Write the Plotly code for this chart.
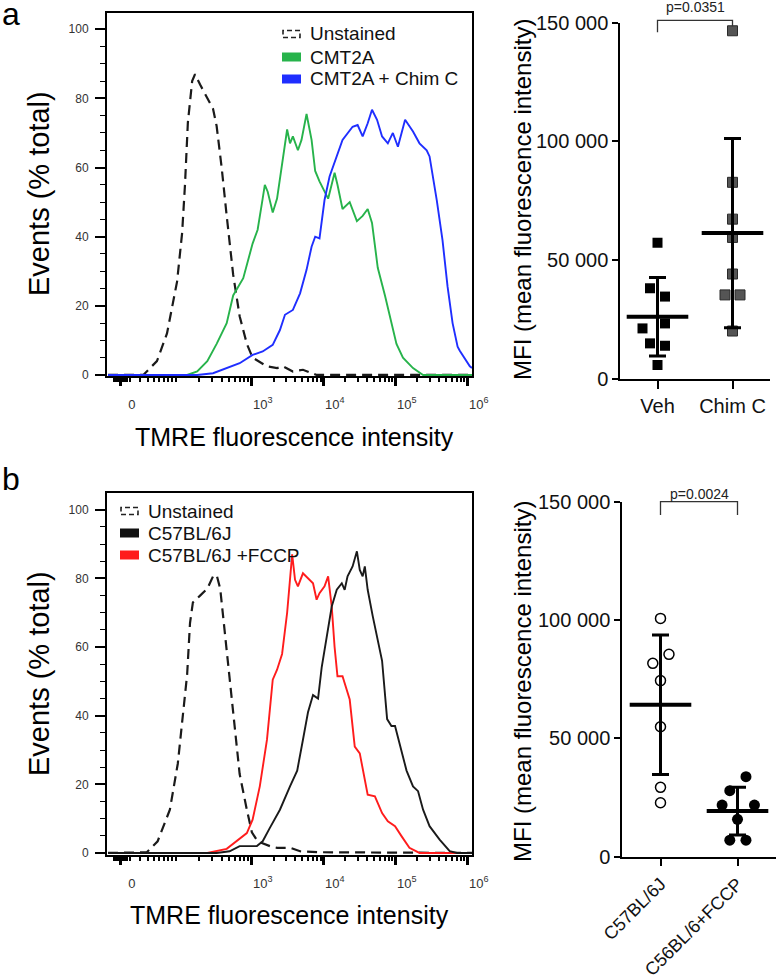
import numpy as np
import plotly.graph_objects as go

# ---------------- DATA ----------------
# Histograms: x in display decades (3 -> 10^3, 4 -> 10^4 ...), y = events (% total)
a_unst_x = [1.0, 1.49, 1.68, 1.82, 1.96, 2.03, 2.07, 2.11, 2.17, 2.21, 2.28, 2.38, 2.46, 2.51, 2.58, 2.65,
            2.74, 2.83, 2.93, 3.01, 3.21, 3.35, 3.43, 3.57, 3.71, 3.90, 6.06]
a_unst_y = [0, 0, 4, 12, 27, 41, 55, 73, 85, 87, 84, 80, 77, 72, 60, 46,
            29, 17, 9, 5, 2.5, 2, 2.5, 1, 1.5, 0, 0]

a_cmt_x = [1.0, 2.10, 2.24, 2.38, 2.51, 2.65, 2.74, 2.88, 3.01, 3.08, 3.15, 3.18, 3.22, 3.28, 3.29, 3.35,
           3.42, 3.49, 3.53, 3.57, 3.64, 3.69, 3.76, 3.83, 3.88, 3.94, 4.06, 4.15, 4.19, 4.26, 4.36,
           4.46, 4.54, 4.61, 4.67, 4.75, 4.85, 4.92, 5.01, 5.10, 5.24, 5.38, 6.06]
a_cmt_y = [0, 0, 1, 4, 9, 15, 23, 28, 38, 42, 51, 55, 53, 48, 47, 51,
           61, 71, 67, 69, 65, 68, 75.5, 68, 59, 56, 51, 58.5, 55, 48, 50,
           44.5, 46, 48, 44, 31, 23, 17, 9, 5, 2, 0, 0]

a_chim_x = [1.0, 2.24, 2.46, 2.65, 2.83, 3.01, 3.15, 3.29, 3.39, 3.46, 3.57, 3.67, 3.76, 3.83, 3.88, 3.94,
            4.01, 4.08, 4.18, 4.26, 4.40, 4.47, 4.54, 4.61, 4.67, 4.74, 4.81, 4.89, 4.96, 5.03, 5.13,
            5.24, 5.33, 5.43, 5.47, 5.57, 5.65, 5.72, 5.79, 5.86, 5.89, 6.03, 6.06]
a_chim_y = [0, 0, 0.5, 2, 3.4, 5.8, 6.8, 8.7, 13, 17.4, 18.8, 23.6, 30.4, 37.1, 40, 39.5,
            50.6, 57.4, 63.2, 68, 71.8, 72.3, 69, 72.8, 76.7, 73.8, 69, 67, 70, 66, 73.8,
            70.4, 67, 65, 63.2, 50.6, 39, 25.6, 15, 8.2, 7, 2.5, 2]

b_unst_x = [1.0, 1.54, 1.69, 1.86, 1.97, 2.04, 2.10, 2.14, 2.18, 2.28, 2.38, 2.46, 2.51, 2.56, 2.63, 2.69,
            2.76, 2.83, 2.93, 3.0, 3.08, 3.25, 3.35, 3.53, 3.67, 3.94, 6.06]
b_unst_y = [0, 0.2, 3.4, 12.6, 26, 39, 52, 67, 73, 75, 77, 80.6, 81, 77, 63, 50.5,
            35, 23, 12.6, 6, 3.4, 2, 1.5, 1.5, 0.5, 0.2, 0]

b_wt_x = [1.0, 2.51, 2.69, 2.83, 3.07, 3.15, 3.25, 3.39, 3.53, 3.63, 3.71, 3.78, 3.85, 3.92, 3.97, 4.04,
          4.11, 4.18, 4.25, 4.29, 4.33, 4.40, 4.46, 4.50, 4.54, 4.57, 4.61, 4.68, 4.75, 4.81, 4.88,
          4.94, 4.99, 5.06, 5.15, 5.24, 5.31, 5.38, 5.47, 5.61, 5.75, 5.85, 6.06]
b_wt_y = [0, 0, 0.5, 2, 2, 3.4, 7.3, 12.6, 19.4, 24, 33, 41, 46, 45, 54, 63,
          71.8, 76.7, 78.6, 76.7, 80.6, 83.5, 87.9, 82.5, 80.6, 83.5, 76.7, 69, 62, 56, 39,
          37, 37, 31, 24, 19.4, 18, 12.6, 7.8, 3.9, 0.5, 0, 0]

b_fccp_x = [1.0, 2.38, 2.65, 2.79, 2.93, 3.01, 3.11, 3.21, 3.29, 3.35, 3.42, 3.49, 3.56, 3.60, 3.64, 3.71,
            3.78, 3.85, 3.90, 3.94, 4.01, 4.06, 4.11, 4.15, 4.19, 4.26, 4.36, 4.43, 4.50, 4.57, 4.61,
            4.71, 4.81, 4.89, 4.99, 5.08, 5.19, 5.33, 6.06]
b_fccp_y = [0, 0, 1.2, 3.4, 5.8, 9.7, 19.4, 33, 50.5, 53.4, 58, 70, 87, 79.6, 77.7, 81.5,
            80, 78.6, 73.8, 75.7, 77.7, 80.6, 71.8, 60, 51.5, 51.5, 44.7, 31, 29, 21.4, 17,
            16.5, 11.6, 9.2, 7.8, 4.9, 1.5, 0, 0]

# Histogram x tick labels
hist_tickvals = [1.18, 3, 4, 5, 6]
hist_ticktext = ["0", "10<sup>3</sup>", "10<sup>4</sup>", "10<sup>5</sup>", "10<sup>6</sup>"]
hist_minor_vals = ([1.08, 1.11, 1.14, 1.17, 1.21, 1.24, 1.27, 1.30, 1.45, 1.55, 1.64, 1.71, 1.78, 1.84, 1.89, 1.94]
                   + [1.94 + 1.06 * np.log10(k) for k in range(2, 10)]
                   + [d + np.log10(k) for d in (3, 4, 5) for k in range(2, 10)])
hist_yticks = [0, 20, 40, 60, 80, 100]

# MFI dot plots
a_groups = ["Veh", "Chim C"]
a_veh = [57400, 38200, 34700, 23400, 21300, 15000, 14000, 5900]
a_veh_off = [0, -0.1, 0.1, 0.1, -0.2, -0.1, 0.1, 0]
a_chim = [146600, 82800, 67300, 59600, 44200, 35400, 35400, 20200]
a_chim_off = [0, 0, 0, 0, 0, -0.1, 0.1, 0]
a_p = "p=0.0351"

b_groups = ["C57BL/6J", "C56BL/6+FCCP"]
b_wt = [100700, 81700, 85500, 74400, 54900, 29300, 22800]
b_wt_off = [0, -0.1, 0.11, 0, 0, 0, 0]
b_fccp = [33800, 27900, 21800, 21800, 15800, 7000, 7000]
b_fccp_off = [0.11, -0.1, -0.2, 0.22, 0, -0.1, 0.11]
b_p = "p=0.0024"

mfi_tickvals = [0, 50000, 100000, 150000]
mfi_ticktext = ["0", "50 000", "100 000", "150 000"]

# ---------------- FIGURE ----------------
W, H = 778, 980
FONT = "Liberation Sans, Arial, sans-serif"
GREEN = "#27b34b"
BLUE = "#1f2eff"
RED = "#ff1c1c"
DASH = "10px,6px"


def fx(p):
    return p / W


def fy(p):
    return 1 - p / H


fig = go.Figure()

# histogram a
fig.add_trace(go.Scatter(x=a_unst_x, y=a_unst_y, mode="lines", line=dict(color="#1a1a1a", width=2.2, dash=DASH),
                         xaxis="x", yaxis="y", showlegend=False))
fig.add_trace(go.Scatter(x=a_cmt_x, y=a_cmt_y, mode="lines", line=dict(color=GREEN, width=1.9),
                         xaxis="x", yaxis="y", showlegend=False))
fig.add_trace(go.Scatter(x=a_chim_x, y=a_chim_y, mode="lines", line=dict(color=BLUE, width=1.9),
                         xaxis="x", yaxis="y", showlegend=False))
# histogram b
fig.add_trace(go.Scatter(x=b_unst_x, y=b_unst_y, mode="lines", line=dict(color="#1a1a1a", width=2.2, dash=DASH),
                         xaxis="x3", yaxis="y3", showlegend=False))
fig.add_trace(go.Scatter(x=b_fccp_x, y=b_fccp_y, mode="lines", line=dict(color=RED, width=1.9),
                         xaxis="x3", yaxis="y3", showlegend=False))
fig.add_trace(go.Scatter(x=b_wt_x, y=b_wt_y, mode="lines", line=dict(color="#1a1a1a", width=1.9),
                         xaxis="x3", yaxis="y3", showlegend=False))


def dot_group(xpos, offs, vals, ax, ay, marker):
    fig.add_trace(go.Scatter(x=[xpos + o for o in offs], y=vals, mode="markers", marker=marker,
                             xaxis=ax, yaxis=ay, showlegend=False))


def mean_sd(xpos, vals, ax, ay):
    m = float(np.mean(vals))
    s = float(np.std(vals, ddof=1))
    fig.add_trace(go.Scatter(x=[xpos], y=[m], mode="markers",
                             marker=dict(symbol="line-ew", size=44, line=dict(color="black", width=4)),
                             error_y=dict(type="data", array=[s], visible=True, width=8.5, thickness=3,
                                          color="black"),
                             xaxis=ax, yaxis=ay, showlegend=False))


sq_black = dict(symbol="square", size=10, color="black", line=dict(width=0))
sq_gray = dict(symbol="square", size=10, color="#555555", line=dict(color="#2a2a2a", width=1))
circ_open = dict(symbol="circle", size=10, color="white", line=dict(color="black", width=1.5))
circ_fill = dict(symbol="circle", size=11, color="black", line=dict(width=0))

dot_group(0, a_veh_off, a_veh, "x2", "y2", sq_black)
dot_group(1, a_chim_off, a_chim, "x2", "y2", sq_gray)
mean_sd(0, a_veh, "x2", "y2")
mean_sd(1, a_chim, "x2", "y2")

dot_group(0, b_wt_off, b_wt, "x4", "y4", circ_open)
dot_group(1, b_fccp_off, b_fccp, "x4", "y4", circ_fill)
mean_sd(0, b_wt, "x4", "y4")
mean_sd(1, b_fccp, "x4", "y4")


def hist_x(domain, anchor):
    return dict(domain=domain, anchor=anchor, range=[0.986, 6.06], showgrid=False, zeroline=False,
                automargin=False,
                showline=True, linecolor="black", linewidth=2, mirror=True,
                tickmode="array", tickvals=hist_tickvals, ticktext=hist_ticktext,
                ticks="outside", ticklen=8, tickwidth=2.5, tickcolor="black",
                ticklabelshift=11, ticklabelstandoff=7,
                tickfont=dict(family=FONT, size=13, color="#333"),
                minor=dict(tickvals=hist_minor_vals, ticks="outside", ticklen=4, tickwidth=1.5,
                           tickcolor="black"))


def hist_y(domain, anchor, rng):
    return dict(domain=domain, anchor=anchor, range=rng, showgrid=False, zeroline=False,
                automargin=False,
                showline=True, linecolor="black", linewidth=2, mirror=True,
                tickmode="array", tickvals=hist_yticks, ticks="outside", ticklen=10, tickwidth=1.5,
                tickcolor="black", ticklabelstandoff=4,
                tickfont=dict(family=FONT, size=12, color="#333"),
                minor=dict(dtick=5, tick0=0, ticks="outside", ticklen=5, tickwidth=1, tickcolor="black"))


def dot_x(domain, anchor, labels, angle, size):
    return dict(domain=domain, anchor=anchor, range=[-0.5, 1.5], showgrid=False, zeroline=False,
                automargin=False,
                showline=True, linecolor="black", linewidth=1.5,
                tickmode="array", tickvals=[0, 1], ticktext=labels, tickangle=angle,
                ticks="outside", ticklen=8, tickwidth=1.5, tickcolor="black",
                tickfont=dict(family=FONT, size=size, color="#111"))


def dot_y(domain, anchor):
    return dict(domain=domain, anchor=anchor, range=[0, 150000], showgrid=False, zeroline=False,
                automargin=False,
                showline=True, linecolor="black", linewidth=1.5,
                tickmode="array", tickvals=mfi_tickvals, ticktext=mfi_ticktext,
                ticks="outside", ticklen=6, tickwidth=1.5, tickcolor="black",
                tickfont=dict(family=FONT, size=20, color="#111"))


fig.update_layout(
    width=W, height=H, margin=dict(l=0, r=0, t=0, b=0, autoexpand=False),
    paper_bgcolor="white", plot_bgcolor="white", showlegend=False,
    font=dict(family=FONT, color="black"),
    xaxis=hist_x([fx(107), fx(472)], "y"),
    yaxis=hist_y([fy(376), fy(13)], "x", [-0.3, 104.7]),
    xaxis3=hist_x([fx(107), fx(472)], "y3"),
    yaxis3=hist_y([fy(855), fy(493)], "x3", [-0.6, 104.9]),
    xaxis2=dot_x([fx(620), fx(770)], "y2", a_groups, 0, 20),
    yaxis2=dot_y([fy(379), fy(22.7)], "x2"),
    xaxis4=dot_x([fx(622), fx(776)], "y4", b_groups, -45, 18),
    yaxis4=dot_y([fy(856.7), fy(501.7)], "x4"),
)

shapes = []
annots = []


def legend_rows(x0, rows, ys, colors):
    for label, yc, col in zip(rows, ys, colors):
        if col is None:
            shapes.append(dict(type="rect", xref="paper", yref="paper", x0=fx(x0 + 1), x1=fx(x0 + 18),
                               y0=fy(yc + 3.5), y1=fy(yc - 3.5),
                               line=dict(color="#222", width=1.6, dash="5px,3px"), fillcolor="rgba(0,0,0,0)"))
        else:
            shapes.append(dict(type="rect", xref="paper", yref="paper", x0=fx(x0), x1=fx(x0 + 19),
                               y0=fy(yc + 4.5), y1=fy(yc - 4.5), line=dict(width=0), fillcolor=col))
        annots.append(dict(text=label, xref="paper", yref="paper", x=fx(x0 + 26), y=fy(yc),
                           xanchor="left", yanchor="middle", showarrow=False,
                           font=dict(family=FONT, size=19, color="#111")))


legend_rows(282, ["Unstained", "CMT2A", "CMT2A + Chim C"], [34, 57, 79], [None, GREEN, BLUE])
legend_rows(120, ["Unstained", "C57BL/6J", "C57BL/6J +FCCP"], [511, 533, 555], [None, "#111", RED])


def bracket(ax, top, l_leg, r_leg, text, text_y):
    xr, yr = ax + " domain", "y" + ax[1:] + " domain"
    shapes.append(dict(type="path", xref=xr, yref=yr,
                       path=f"M 0.25 {l_leg / 150000} L 0.25 {top / 150000} L 0.75 {top / 150000} L 0.75 {r_leg / 150000}",
                       line=dict(color="#333", width=1.3)))
    annots.append(dict(text=text, xref=xr, yref=yr, x=0.5, y=text_y, xanchor="center", yanchor="middle",
                       showarrow=False, font=dict(family=FONT, size=14, color="#222")))


bracket("x2", 151000, 146000, 148500, a_p, 1.045)
bracket("x4", 150000, 144400, 144400, b_p, 1.022)

# axis titles and panel letters
for yc in (194, 674):
    annots.append(dict(text="Events (% total)", xref="paper", yref="paper", x=fx(39), y=fy(yc),
                       textangle=-90, showarrow=False, xanchor="center", yanchor="middle",
                       font=dict(family=FONT, size=29, color="black")))
for yc, xc in ((437, 294), (915, 289)):
    annots.append(dict(text="TMRE fluorescence intensity", xref="paper", yref="paper", x=fx(xc), y=fy(yc),
                       showarrow=False, xanchor="center", yanchor="middle",
                       font=dict(family=FONT, size=25, color="black")))
for yc in (200, 682):
    annots.append(dict(text="MFI (mean fluorescence intensity)", xref="paper", yref="paper", x=fx(522), y=fy(yc),
                       textangle=-90, showarrow=False, xanchor="center", yanchor="middle",
                       font=dict(family=FONT, size=24, color="black")))
for letter, yc in (("a", 14), ("b", 479)):
    annots.append(dict(text=letter, xref="paper", yref="paper", x=fx(0), y=fy(yc),
                       showarrow=False, xanchor="left", yanchor="middle",
                       font=dict(family=FONT, size=32, color="black")))

fig.update_layout(shapes=shapes, annotations=annots)
fig.write_html("out.html", config={"displayModeBar": False},
               post_script="document.body.style.margin='0px';document.body.style.padding='0px';")
